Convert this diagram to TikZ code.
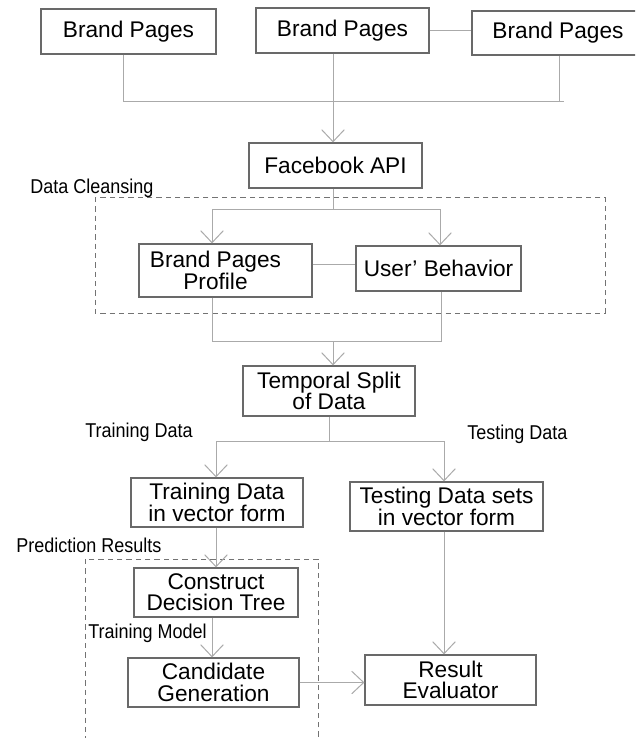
\documentclass[tikz,border=0pt]{standalone}
\usepackage{fontspec}
\setmainfont{Liberation Sans}
\newfontfamily\tagfont[FakeStretch=0.9]{Liberation Sans}
\usetikzlibrary{arrows.meta}

\definecolor{boxline}{RGB}{105,105,105}
\definecolor{wireline}{RGB}{170,170,170}
\definecolor{dashline}{RGB}{115,115,115}

\tikzset{
  box/.style={draw=boxline, line width=0.9pt, align=center, inner sep=0pt, font=\fontsize{17}{16}\selectfont},
  bx/.style 2 args={minimum width=#1*0.75pt, minimum height=#2*0.75pt},
  txt/.style={align=center, inner sep=0pt, font=\fontsize{17}{16}\selectfont},
  wire/.style={draw=wireline, line width=0.75pt},
  arr/.style={wire, -{Straight Barb[length=9pt,width=17pt]}},
  tag/.style={anchor=west, inner sep=0pt, font=\tagfont\fontsize{15}{16}\selectfont},
  grp/.style={draw=dashline, line width=0.75pt, dash pattern=on 4pt off 3pt},
}

\begin{document}
\begin{tikzpicture}[x=0.75pt,y=0.75pt,yscale=-1,xscale=1]
\clip (0,0) rectangle (635,738);

%Shape: Rectangle [id:brand pages]
\node[box, bx={175}{45}] (bp1) at (128.5,31.5) {Brand Pages};
\node[box, bx={173}{45}] (bp2) at (342.5,30.5) {Brand Pages};
\node[box, bx={172}{44}] (bp3) at (558,33) {Brand Pages};
%Shape: Rectangle [id:api]
\node[box, bx={173}{45}] (fb) at (335.5,165.5) {Facebook API};

%Shape: Rectangle [id:cleansing group]
\draw[grp] (95,197) rectangle (605,313);
\node[tag] (dclab) at (30,188) {Data Cleansing};
\node[box, bx={173}{53}] (bpp) at (225.5,270.5) {};
\node[txt] (bppt) at (215.5,270.5) {Brand Pages\\Profile};
\node[box, bx={165}{45}] (ub) at (438.5,268.5) {User’ Behavior};

%Shape: Rectangle [id:split]
\node[box, bx={172}{50}] (ts) at (329,391) {Temporal Split\\of Data};
\node[tag] (trlab) at (85,432) {Training Data};
\node[tag] (telab) at (467,434) {Testing Data};
\node[box, bx={172}{49}] (td) at (217,502.5) {Training Data\\in vector form};
\node[box, bx={193}{49}] (te) at (446.5,506.5) {Testing Data sets\\in vector form};

%Shape: Rectangle [id:prediction group]
\draw[grp] (85,559) rectangle (318,760);
\node[tag] (prlab) at (16,545) {Prediction Results};
\node[box, bx={164}{49}] (ct) at (216,592.5) {Construct\\Decision Tree};
\node[tag] (tmlab) at (88,633) {Training Model};
\node[box, bx={171}{49}] (cg) at (213.5,682.5) {Candidate\\Generation};
\node[box, bx={171}{50}] (re) at (450.5,680) {Result\\Evaluator};

%Coordinates of the joints
\coordinate (jl) at (123,102);
\coordinate (jr) at (564,102);
\coordinate (j3) at (559,102);
\coordinate (jm) at (333,102);
\coordinate (bl) at (212,209);
\coordinate (br) at (440,209);
\coordinate (lk) at (0,264);
\coordinate (ml) at (212,341);
\coordinate (mr) at (441,341);
\coordinate (mm) at (333,341);
\coordinate (sl) at (216,441);
\coordinate (sr) at (444,441);

%Straight Lines [id:top join]
\draw[wire] (bp1.south -| jl) -- (jl) -- (jr);
\draw[wire] (bp3.south -| j3) -- (j3);
\draw[wire] (bp2.east) -- (bp2.east -| bp3.west);
\draw[arr] (bp2.south -| jm) -- (jm |- fb.north);

%Straight Lines [id:cleansing]
\draw[wire] (fb.south -| jm) -- (jm |- bl);
\draw[wire] (bl) -- (br);
\draw[arr] (bl) -- (bl |- bpp.north);
\draw[arr] (br) -- (br |- ub.north);
\draw[wire] (bpp.east |- lk) -- (ub.west |- lk);

%Straight Lines [id:merge]
\draw[wire] (ml |- bpp.south) -- (ml) -- (mr) -- (mr |- ub.south);
\draw[arr] (mm) -- (mm |- ts.north);

%Straight Lines [id:split]
\draw[wire] (ts.south) -- (ts.south |- sl);
\draw[wire] (sl) -- (sr);
\draw[arr] (sl) -- (sl |- td.north);
\draw[arr] (sr) -- (sr |- te.north);

%Straight Lines [id:prediction]
\draw[arr] (td.south -| sl) -- (sl |- ct.north);
\draw[arr] (ct.south -| bl) -- (bl |- cg.north);
\draw[arr] (te.south -| sr) -- (sr |- re.north);
\draw[arr] (cg.east) -- (cg.east -| re.west);

\end{tikzpicture}
\end{document}
